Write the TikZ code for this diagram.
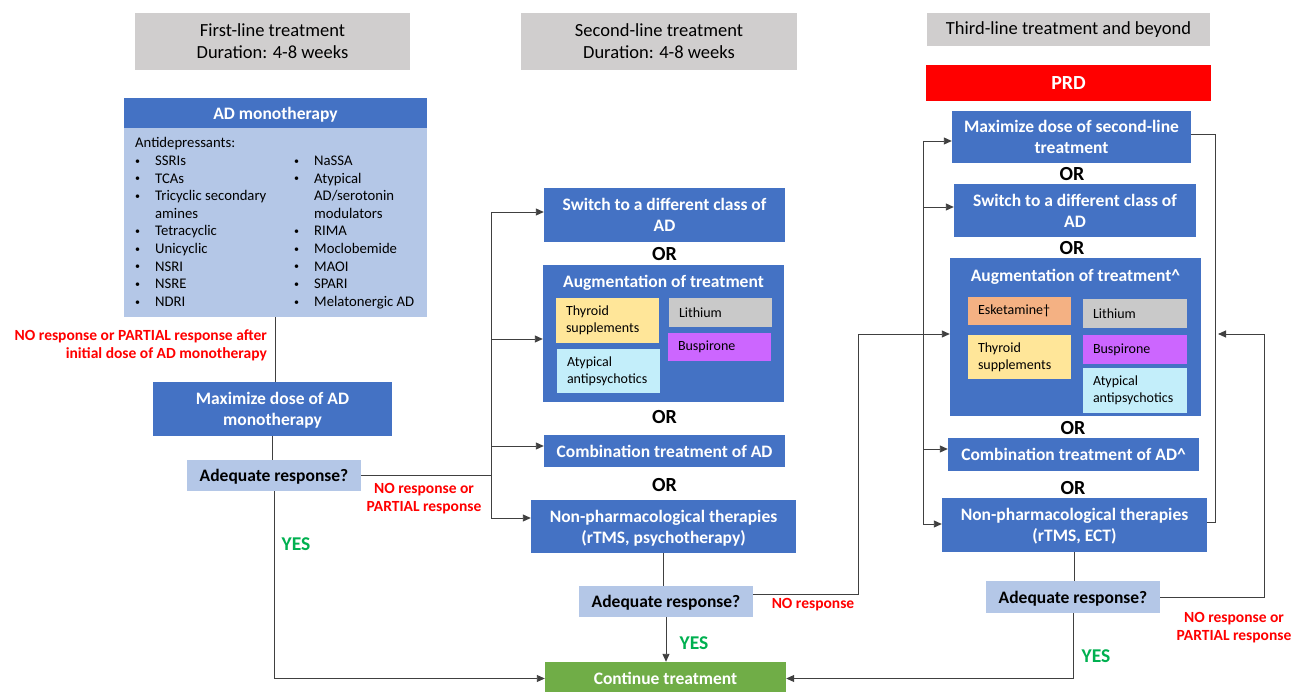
\documentclass[tikz,border=0pt]{standalone}
\usepackage{fontspec}
\setmainfont{Carlito}
\usetikzlibrary{arrows.meta}
\definecolor{adblue}{HTML}{4472C4}
\definecolor{ltblue}{HTML}{B4C7E7}
\definecolor{hdrgray}{HTML}{D0CECE}
\definecolor{prdred}{HTML}{FF0000}
\definecolor{gogreen}{HTML}{70AD47}
\definecolor{yesgreen}{HTML}{00B050}
\definecolor{thyyellow}{HTML}{FFE699}
\definecolor{ligray}{HTML}{C9C9C9}
\definecolor{buspurple}{HTML}{CC66FF}
\definecolor{atycyan}{HTML}{C3EEFA}
\definecolor{eskorange}{HTML}{F4B183}
\definecolor{linegray}{HTML}{404040}
\newcommand{\smbul}{\raisebox{1.2pt}{\fontsize{10}{10}\selectfont\textbullet}}
\tikzset{
  hdr/.style={fill=hdrgray,align=center,inner sep=0pt,font=\fontsize{18.5}{22}\selectfont},
  blbox/.style={fill=adblue,text=white,align=center,inner sep=0pt,text depth=0pt,font=\bfseries\fontsize{17.5}{21}\selectfont},
  askbox/.style={fill=ltblue,align=center,inner sep=0pt,text depth=0pt,font=\bfseries\fontsize{17.5}{20}\selectfont},
  subbox/.style={align=left,inner xsep=10pt,inner ysep=0pt,font=\fontsize{14}{17}\selectfont},
  orlbl/.style={inner sep=0pt,font=\bfseries\fontsize{20}{22}\selectfont},
  yeslbl/.style={inner sep=0pt,text=yesgreen,font=\bfseries\fontsize{19.5}{22}\selectfont},
  nolbl/.style={inner sep=0pt,text=prdred,font=\bfseries\fontsize{15.5}{18}\selectfont},
  lst/.style={anchor=base west,inner sep=0pt,font=\fontsize{14.7}{17.6}\selectfont},
  conn/.style={draw=linegray,line width=0.9pt},
  arr/.style={conn,-{Triangle[length=8pt,width=7pt]}}
}
\begin{document}
\begin{tikzpicture}[x=1pt,y=-1pt]
\useasboundingbox (0,0) rectangle (1303,692);

% headers
\node[hdr,minimum width=275pt,minimum height=57pt] (hd1) at (272.5,41.5) {First-line treatment\\Duration: 4-8 weeks};
\node[hdr,minimum width=276pt,minimum height=57pt] (hd2) at (659,41.5) {Second-line treatment\\Duration: 4-8 weeks};
\node[hdr,minimum width=283pt,minimum height=33pt] (hd3) at (1068.5,29.5) {Third-line treatment and beyond};
\node[blbox,fill=prdred,minimum width=285pt,minimum height=36pt,font=\bfseries\fontsize{20}{22}\selectfont] (prd) at (1068.5,83) {PRD};

% first line
\node[fill=ltblue,minimum width=303pt,minimum height=189pt,inner sep=0pt] (adb) at (275.5,222.5) {};
\node[blbox,minimum width=303pt,minimum height=30pt] (adh) at (275.5,113) {AD monotherapy};
\node[lst] (lhead) at (135,148) {Antidepressants:};
\foreach \k/\b/\t in {1/1/SSRIs,2/1/TCAs,3/1/Tricyclic secondary,4/0/amines,5/1/Tetracyclic,6/1/Unicyclic,7/1/NSRI,8/1/NSRE,9/1/NDRI}{
  \node[lst] (la\k) at (155,148+17.6*\k) {\t};
  \ifnum\b=1 \node[lst] (ba\k) at (135,148+17.6*\k) {\smbul};\fi
}
\foreach \k/\b/\t in {1/1/NaSSA,2/1/Atypical,3/0/{AD/serotonin},4/0/modulators,5/1/RIMA,6/1/Moclobemide,7/1/MAOI,8/1/SPARI,9/1/Melatonergic AD}{
  \node[lst] (lb\k) at (314,148+17.6*\k) {\t};
  \ifnum\b=1 \node[lst] (bb\k) at (294,148+17.6*\k) {\smbul};\fi
}
\node[nolbl,anchor=east,align=right] (no1) at (267,345) {NO response or PARTIAL response after\\initial dose of AD monotherapy};
\node[blbox,minimum width=239pt,minimum height=54pt] (max1) at (272.5,409) {Maximize dose of AD\\monotherapy};
\node[askbox,minimum width=174pt,minimum height=31pt] (adq1) at (274,475.5) {Adequate response?};
\node[yeslbl] (yes1) at (296,544) {YES};
\node[nolbl,align=center] (no2) at (424,499) {NO response or\\PARTIAL response};

% second line
\node[blbox,minimum width=241pt,minimum height=54pt] (sw1) at (664.5,215) {Switch to a different class of\\AD};
\node[orlbl] (or1) at (664.5,254) {OR};
\node[fill=adblue,minimum width=241pt,minimum height=137pt,inner sep=0pt] (aug1) at (663.5,333.5) {};
\node[blbox] (aug1t) at (663.5,281) {Augmentation of treatment};
\node[subbox,fill=thyyellow,minimum width=103pt,minimum height=45pt,text width=83pt] (thy1) at (607.5,320.5) {Thyroid\\supplements};
\node[subbox,fill=ligray,minimum width=103pt,minimum height=29pt,text width=83pt] (lit1) at (720.5,312.5) {Lithium};
\node[subbox,fill=buspurple,minimum width=103pt,minimum height=28pt,text width=83pt] (bus1) at (719.5,347) {Buspirone};
\node[subbox,fill=atycyan,minimum width=103pt,minimum height=44pt,text width=83pt] (aty1) at (608.5,371) {Atypical\\antipsychotics};
\node[orlbl] (or2) at (664.5,417) {OR};
\node[blbox,minimum width=241pt,minimum height=32pt] (comb1) at (664.5,451) {Combination treatment of AD};
\node[orlbl] (or3) at (664.5,485) {OR};
\node[blbox,minimum width=265pt,minimum height=53pt] (np1) at (663.5,526.5) {Non-pharmacological therapies\\(rTMS, psychotherapy)};
\node[askbox,minimum width=174pt,minimum height=31pt] (adq2) at (666,601.5) {Adequate response?};
\node[yeslbl] (yes2) at (694,643) {YES};
\node[nolbl] (no3) at (813,605) {NO response};
\node[blbox,fill=gogreen,minimum width=241pt,minimum height=33pt] (go) at (665.5,678.5) {Continue treatment};

% third line
\node[blbox,minimum width=239pt,minimum height=52pt] (max2) at (1071.5,137) {Maximize dose of second-line\\treatment};
\node[orlbl] (or4) at (1072,174) {OR};
\node[blbox,minimum width=242pt,minimum height=53pt] (sw2) at (1075,210.5) {Switch to a different class of\\AD};
\node[orlbl] (or5) at (1072,248) {OR};
\node[fill=adblue,minimum width=251pt,minimum height=158pt,inner sep=0pt] (aug2) at (1075.5,337) {};
\node[blbox] (aug2t) at (1075.5,275) {Augmentation of treatment\textasciicircum};
\node[subbox,fill=eskorange,minimum width=103pt,minimum height=28pt,text width=83pt] (esk) at (1019.5,311) {Esketamine†};
\node[subbox,fill=ligray,minimum width=104pt,minimum height=29pt,text width=84pt] (lit2) at (1135,313.5) {Lithium};
\node[subbox,fill=thyyellow,minimum width=103pt,minimum height=44pt,text width=83pt] (thy2) at (1019.5,357) {Thyroid\\supplements};
\node[subbox,fill=buspurple,minimum width=104pt,minimum height=29pt,text width=84pt] (bus2) at (1135,349.5) {Buspirone};
\node[subbox,fill=atycyan,minimum width=104pt,minimum height=45pt,text width=84pt] (aty2) at (1135,390.5) {Atypical\\antipsychotics};
\node[orlbl] (or6) at (1073,428) {OR};
\node[blbox,minimum width=251pt,minimum height=33pt] (comb2) at (1073.5,454.5) {Combination treatment of AD\textasciicircum};
\node[orlbl] (or7) at (1073,488) {OR};
\node[blbox,minimum width=265pt,minimum height=54pt] (np2) at (1074.5,525) {Non-pharmacological therapies\\(rTMS, ECT)};
\node[askbox,minimum width=174pt,minimum height=32pt] (adq3) at (1073,597) {Adequate response?};
\node[yeslbl] (yes3) at (1096,656) {YES};
\node[nolbl,align=center] (no4) at (1234,627.5) {NO response or\\PARTIAL response};

% connectors
\coordinate (t1a) at (491,212);
\coordinate (t1b) at (491,518);
\coordinate (nr) at (858,334);
\coordinate (t3a) at (923,141);
\coordinate (t3b) at (923,524);
\coordinate (lpa) at (1215,134);
\coordinate (lpb) at (1215,522);
\coordinate (nr3) at (1264,334);
\coordinate (lpm) at (1218,334);

\draw[conn] (adb.south) -- (adb.south |- max1.north);
\draw[conn] (max1.south) -- (max1.south |- adq1.north);
\draw[arr] (adq1.south) |- (go.west);
\draw[conn] (adq1.east) -- (adq1.east -| t1a);
\draw[conn] (t1a) -- (t1b);
\draw[arr] (t1a) -- (t1a -| sw1.west);
\draw[arr] (491,339) -- (aug1.west |- 0,339);
\draw[arr] (491,446) -- (comb1.west |- 0,446);
\draw[arr] (t1b) -- (t1b -| np1.west);

\draw[conn] (np1.south) -- (np1.south |- adq2.north);
\draw[arr] (adq2.south) -- (adq2.south |- go.north);
\draw[arr] ([yshift=7pt]adq2.east) -| (nr) -- (nr -| aug2.west);

\draw[conn] (t3a) -- (t3b);
\draw[arr] (t3a) -- (t3a -| max2.west);
\draw[arr] (923,207) -- (sw2.west |- 0,207);
\draw[arr] (923,449) -- (comb2.west |- 0,449);
\draw[arr] (t3b) -- (t3b -| np2.west);
\draw[conn] (max2.east |- lpa) -- (lpa) -- (lpb) -- (lpb -| np2.east);
\draw[conn] (np2.south) -- (np2.south |- adq3.north);
\draw[arr] (adq3.south) |- (go.east);
\draw[arr] (adq3.east) -| (nr3) -- (lpm);
\end{tikzpicture}
\end{document}
